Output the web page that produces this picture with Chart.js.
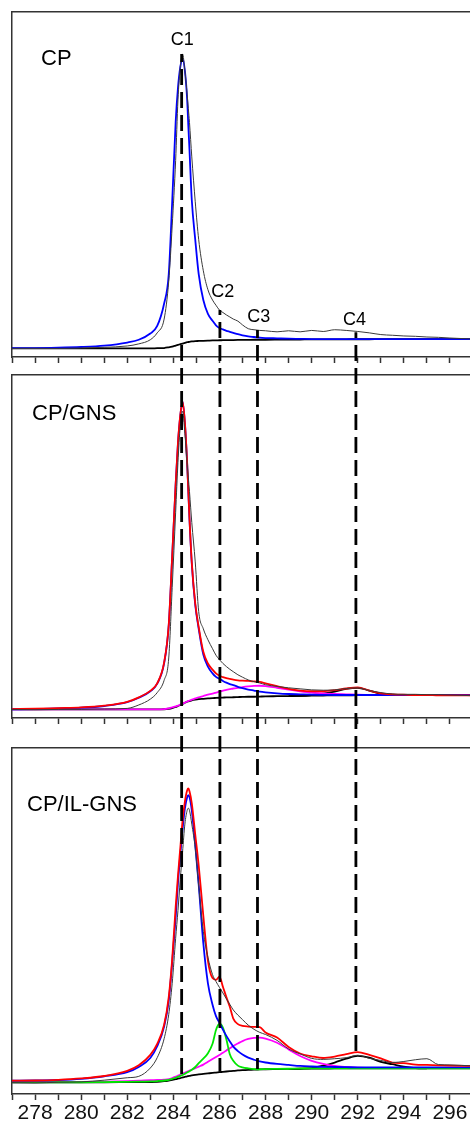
<!DOCTYPE html>
<html>
<head>
<meta charset="utf-8">
<script src="https://cdn.jsdelivr.net/npm/chart.js@4.4.1/dist/chart.umd.min.js"></script>
<style>
  html, body { margin: 0; padding: 0; background: #fff; overflow: hidden; }
  canvas { position: absolute; left: 0; }
</style>
</head>
<body>
<canvas id="cp" width="476" height="366" style="top:0px;width:476px;height:366px"></canvas>
<canvas id="gns" width="476" height="370" style="top:366px;width:476px;height:370px"></canvas>
<canvas id="ilgns" width="476" height="391" style="top:736px;width:476px;height:391px"></canvas>
<script>
// binding energy grid (eV), shared by the spectra
const energy = [277, 278, 279, 280, 281, 282, 282.5, 283, 283.3, 283.6, 283.8, 283.95, 284.1, 284.2, 284.3, 284.4, 284.5, 284.6, 284.65, 284.7,
  284.8, 284.95, 285.1, 285.3, 285.5, 285.7, 285.85, 286, 286.15, 286.3, 286.45, 286.6, 286.8, 287, 287.25, 287.5, 287.75, 288, 288.5, 289,
  289.5, 290, 290.5, 291, 291.5, 292, 292.5, 293, 293.5, 294, 294.5, 295, 295.5, 296, 297];
// grid for the pi-pi* satellite (C4) component
const energyC4 = [289, 289.5, 290, 290.5, 291, 291.5, 292, 292.5, 293, 293.5, 294, 294.5, 295];

// CP
const cpRaw = [2.5, 2.5, 2.5, 2.6, 2.8, 3.2, 3.8, 5.0, 7.0, 11.0, 22, 38, 57, 74.5, 84, 87.8, 83, 76, 72, 68,
  58, 45, 34, 25, 19.5, 16.5, 15.0, 13.6, 12.9, 12.2, 11.6, 11.0, 10.4, 9.3, 8.2, 7.9, 7.7, 7.6, 7.3, 7.6,
  7.3, 7.7, 7.4, 7.9, 7.7, 7.4, 7.0, 6.5, 6.3, 6.1, 6.0, 5.8, 5.7, 5.5, 5.2];
const cpC1 = [2.6, 2.6, 2.7, 2.9, 3.3, 4.2, 5.0, 6.8, 9.0, 15.5, 24, 45, 68, 78, 84, 86.5, 83, 74.5, 67, 60,
  45.5, 34, 24, 16.5, 12.5, 10.5, 9.2, 8.4, 8.0, 7.6, 7.3, 7.0, 6.6, 6.3, 6.0, 5.8, 5.6, 5.5, 5.4, 5.3,
  5.25, 5.2, 5.2, 5.2, 5.2, 5.2, 5.2, 5.2, 5.2, 5.2, 5.2, 5.2, 5.2, 5.2, 5.2];
const cpBg = [2.5, 2.5, 2.5, 2.5, 2.5, 2.5, 2.5, 2.5, 2.55, 2.6, 2.8, 3.0, 3.3, 3.5, 3.7, 3.9, 4.1, 4.3, 4.35, 4.4,
  4.5, 4.6, 4.65, 4.7, 4.75, 4.8, 4.82, 4.85, 4.87, 4.9, 4.9, 4.92, 4.94, 4.95, 4.97, 5.0, 5.0, 5.0, 5.02, 5.05,
  5.07, 5.1, 5.1, 5.12, 5.13, 5.15, 5.15, 5.17, 5.17, 5.18, 5.18, 5.2, 5.2, 5.2, 5.2];

// CP/GNS
const gnsRaw = [2.5, 2.4, 2.5, 2.5, 2.6, 2.8, 3.8, 5.5, 7.4, 11, 17.5, 38, 60, 74.5, 85, 89.5, 83, 74, 70, 66,
  57, 45.5, 31, 26, 22.8, 20.2, 18.3, 17.0, 15.9, 15.0, 14.2, 13.5, 12.6, 11.9, 11.1, 10.6, 10.2, 9.7, 9.2, 8.8,
  8.5, 8.2, 8.1, 8.2, 8.6, 8.8, 8.0, 7.4, 7.0, 6.9, 6.9, 6.8, 6.8, 6.7, 6.5];
const gnsFit = [2.6, 2.7, 2.9, 3.1, 3.6, 4.7, 6.0, 7.9, 10.1, 16.2, 27.2, 47.2, 68.2, 80.2, 88.2, 92.2, 86.2, 74.2, 66.2, 58.2,
  45.3, 33.4, 26.5, 19.3, 15.9, 14.1, 13.0, 12.3, 11.9, 11.6, 11.4, 11.2, 11.0, 10.9, 10.8, 10.7, 10.5, 10.1, 9.3, 8.5,
  8.0, 7.8, 7.8, 8.1, 8.6, 8.9, 8.0, 7.2, 6.9, 6.8, 6.7, 6.7, 6.6, 6.6, 6.6];
const gnsC1 = [2.5, 2.6, 2.8, 3.0, 3.5, 4.6, 5.9, 7.8, 10.0, 16, 27, 47, 68, 80, 88, 92.2, 86, 74, 66, 58,
  45, 33, 26, 18.5, 15.0, 13.0, 12.0, 11.4, 10.8, 10.3, 9.9, 9.6, 9.1, 8.7, 8.3, 8.0, 7.7, 7.5, 7.2, 7.0,
  6.9, 6.8, 6.75, 6.7, 6.7, 6.7, 6.7, 6.7, 6.7, 6.7, 6.7, 6.7, 6.7, 6.7, 6.7];
const gnsC3 = [2.5, 2.5, 2.5, 2.5, 2.5, 2.5, 2.5, 2.5, 2.5, 2.6, 2.8, 3.1, 3.4, 3.6, 3.9, 4.2, 4.5, 4.8, 4.95, 5.1,
  5.35, 5.7, 6.05, 6.4, 6.8, 7.1, 7.4, 7.7, 7.95, 8.2, 8.4, 8.6, 8.8, 9.0, 9.2, 9.35, 9.4, 9.3, 8.8, 8.3,
  7.8, 7.4, 7.2, 7.0, 6.9, 6.8, 6.75, 6.7, 6.7, 6.7, 6.7, 6.7, 6.7, 6.7, 6.7];
const gnsBg = [2.5, 2.5, 2.5, 2.5, 2.5, 2.5, 2.5, 2.5, 2.5, 2.55, 2.7, 2.9, 3.2, 3.5, 3.8, 4.1, 4.45, 4.75, 4.85, 4.95,
  5.15, 5.35, 5.5, 5.6, 5.7, 5.8, 5.85, 5.9, 5.95, 6.0, 6.0, 6.05, 6.1, 6.15, 6.2, 6.2, 6.25, 6.3, 6.35, 6.4,
  6.45, 6.5, 6.55, 6.6, 6.6, 6.65, 6.65, 6.7, 6.7, 6.7, 6.7, 6.7, 6.7, 6.7, 6.7];
const gnsC4 = [6.4, 6.45, 6.7, 7.1, 7.7, 8.5, 8.8, 8.0, 7.1, 6.8, 6.7, 6.7, 6.7];

// CP/IL-GNS
const ilRaw = [3.3, 3.2, 3.4, 3.5, 4.0, 4.7, 5.1, 7.5, 10.5, 16, 23, 32, 45, 53, 62, 70, 78, 82, 82.6, 82,
  78, 71, 60, 47, 39.5, 34.5, 32.5, 30.8, 29.2, 27.5, 25.9, 24.3, 22.8, 21.5, 19.9, 18.7, 17.8, 17.2, 15.5, 13.0,
  11.6, 10.3, 10.0, 10.2, 10.5, 11.2, 10.3, 9.7, 9.1, 9.4, 9.9, 10.2, 8.5, 8.4, 8.1];
const ilFit = [3.85, 3.9, 4.1, 4.5, 5.2, 6.7, 8.3, 11.3, 14.5, 20, 28, 39, 54, 63, 71, 79, 84.5, 87.8, 88.3, 87.5,
  84, 75, 66, 51.5, 38.5, 33.5, 33.0, 33.9, 31.0, 28.0, 25.2, 21.8, 20.2, 19.7, 19.5, 19.4, 19.3, 17.8, 16.3, 13.6,
  11.7, 10.9, 10.4, 10.8, 11.5, 12.1, 11.3, 10.3, 9.1, 8.9, 8.5, 8.4, 8.3, 8.2, 8.1];
const ilC1 = [3.85, 3.9, 4.05, 4.4, 5.1, 6.3, 7.8, 10.4, 13.8, 19.5, 27, 38, 51, 61, 69, 76.5, 82.5, 85.8, 86.4, 85.8,
  82, 72, 60.5, 43.6, 32, 25.8, 22.5, 20.6, 18.6, 16.8, 15.2, 13.7, 12.4, 11.4, 10.5, 9.9, 9.4, 9.1, 8.7, 8.4,
  8.1, 7.95, 7.85, 7.8, 7.75, 7.7, 7.7, 7.7, 7.7, 7.7, 7.7, 7.7, 7.7, 7.7, 7.7];
const ilC2 = [3.35, 3.35, 3.4, 3.4, 3.45, 3.5, 3.55, 3.65, 3.75, 3.9, 4.1, 4.35, 4.7, 4.95, 5.25, 5.5, 5.85, 6.2, 6.4, 6.6,
  7.0, 7.8, 8.9, 10.2, 11.8, 14.5, 18.5, 20.3, 19.2, 15.8, 11.5, 9.6, 8.2, 7.7, 7.4, 7.2, 7.15, 7.2, 7.25, 7.3,
  7.35, 7.4, 7.4, 7.4, 7.4, 7.4, 7.4, 7.4, 7.4, 7.4, 7.4, 7.4, 7.4, 7.4, 7.4];
const ilC3 = [3.4, 3.4, 3.45, 3.5, 3.6, 3.75, 3.85, 4.0, 4.05, 4.15, 4.3, 4.6, 5.0, 5.3, 5.6, 5.9, 6.2, 6.5, 6.6, 6.75,
  7.0, 7.45, 7.9, 8.5, 9.3, 10.1, 10.7, 11.3, 11.9, 12.6, 13.2, 13.9, 14.6, 15.3, 15.9, 16.2, 16.3, 16.0, 14.8, 12.9,
  11.0, 9.6, 8.7, 8.1, 7.8, 7.6, 7.55, 7.5, 7.5, 7.5, 7.5, 7.5, 7.5, 7.5, 7.5];
const ilBg = [3.4, 3.4, 3.4, 3.4, 3.4, 3.42, 3.43, 3.45, 3.5, 3.7, 3.9, 4.1, 4.3, 4.45, 4.6, 4.8, 4.95, 5.1, 5.2, 5.25,
  5.4, 5.55, 5.65, 5.8, 5.95, 6.1, 6.2, 6.3, 6.4, 6.5, 6.6, 6.7, 6.8, 6.9, 6.95, 7.05, 7.1, 7.15, 7.2, 7.25,
  7.3, 7.35, 7.35, 7.4, 7.4, 7.4, 7.4, 7.4, 7.4, 7.4, 7.4, 7.4, 7.4, 7.4, 7.4];
const ilC4 = [7.25, 7.3, 7.5, 8.2, 9.1, 10.2, 11.0, 10.5, 9.3, 8.6, 7.9, 7.5, 7.4];

// peak positions and the dashed guide lines
const peakNames = ['C1', 'C2', 'C3', 'C4'];
const peakEnergy = [284.36, 286.02, 287.65, 291.92];
const dropFrom = [87.8, 13.6, 7.8, 7.2];   // where the line starts in the CP panel
const dropTo = [4.6, 6.4, 7.2, 11.0];      // where it ends in the CP/IL-GNS panel
const labelEnergy = [284.39, 286.14, 287.71, 291.86];
const labelLevel = [90.4, 17.5, 10.2, 9.3];

const FONT = '"Liberation Sans", Arial, Helvetica, sans-serif';
const DASH = [16, 7];
const PERIOD = DASH[0] + DASH[1];

const RAW = { color: '#3a3a3a', width: 1 };
const RED = { color: '#ff0000', width: 1.8 };
const BLUE = { color: '#0000ff', width: 1.8 };
const GREEN = { color: '#00e600', width: 1.8 };
const MAGENTA = { color: '#ff00ff', width: 1.8 };
const BLACK = { color: '#000000', width: 1.8 };

// list order = drawing order from top to bottom
const panels = [
  { canvas: 'cp', name: 'CP', top: 0, padTop: 12, axisH: 9, labels: false, nameAt: [29, 53], drop: 'first',
    curves: [[energy, cpRaw, RAW], [energy, cpC1, BLUE], [energy, cpBg, BLACK]] },
  { canvas: 'gns', name: 'CP/GNS', top: 366, padTop: 9, axisH: 18, labels: false, nameAt: [20, 45], drop: 'middle',
    curves: [[energy, gnsRaw, RAW], [energy, gnsFit, RED], [energy, gnsC1, BLUE], [energy, gnsC3, MAGENTA],
             [energyC4, gnsC4, BLACK], [energy, gnsBg, BLACK]] },
  { canvas: 'ilgns', name: 'CP/IL-GNS', top: 736, padTop: 12, axisH: 33, labels: true, nameAt: [15, 63], drop: 'last',
    curves: [[energy, ilRaw, RAW], [energy, ilFit, RED], [energy, ilC1, BLUE], [energy, ilC2, GREEN], [energy, ilC3, MAGENTA],
             [energyC4, ilC4, BLACK], [energy, ilBg, BLACK]] }
];

const overlay = {
  id: 'overlay',
  afterDraw(chart, args, opts) {
    const ctx = chart.ctx;
    const x = chart.scales.x, y = chart.scales.y;
    const area = chart.chartArea;
    ctx.save();
    ctx.fillStyle = '#000';
    ctx.font = '22px ' + FONT;
    ctx.textBaseline = 'alphabetic';
    ctx.fillText(opts.name, area.left + opts.nameAt[0], area.top + opts.nameAt[1]);

    ctx.strokeStyle = '#000';
    ctx.lineWidth = 2.8;
    ctx.setLineDash(DASH);
    peakEnergy.forEach((e, i) => {
      const px = x.getPixelForValue(e);
      const y0 = opts.drop === 'first' ? y.getPixelForValue(dropFrom[i]) : 0;
      const y1 = opts.drop === 'last' ? y.getPixelForValue(dropTo[i]) : chart.height;
      ctx.lineDashOffset = (y0 + opts.top) % PERIOD;
      ctx.beginPath();
      ctx.moveTo(px, y0);
      ctx.lineTo(px, y1);
      ctx.stroke();
    });
    ctx.setLineDash([]);

    if (opts.drop === 'first') {
      ctx.font = '18px ' + FONT;
      ctx.textAlign = 'center';
      peakNames.forEach((n, i) => {
        ctx.fillText(n, x.getPixelForValue(labelEnergy[i]), y.getPixelForValue(labelLevel[i]));
      });
    }
    ctx.restore();
  }
};

const frame = { display: true, color: '#333', width: 1.5 };
// frame-only axes: no tick marks, so they take no room
const bare = { display: false, drawTicks: false };

panels.forEach(p => {
  new Chart(document.getElementById(p.canvas), {
    type: 'line',
    data: {
      datasets: p.curves.map(([xs, ys, st]) => ({
        data: xs.map((e, i) => ({ x: e, y: ys[i] })),
        borderColor: st.color,
        borderWidth: st.width,
        pointRadius: 0,
        fill: false,
        tension: 0.4,
        cubicInterpolationMode: 'monotone'
      }))
    },
    options: {
      responsive: false,
      animation: false,
      events: [],
      layout: { padding: { left: 12, right: 3, top: p.padTop, bottom: 0 } },
      plugins: {
        legend: { display: false },
        tooltip: { enabled: false },
        overlay: { name: p.name, nameAt: p.nameAt, drop: p.drop, top: p.top }
      },
      scales: {
        x: {
          type: 'linear', position: 'bottom', min: 277, max: 297,
          ticks: {
            display: p.labels, stepSize: 1, maxTicksLimit: 30, autoSkip: false, maxRotation: 0, padding: 1,
            color: '#111', font: { family: FONT, size: 21 },
            callback: v => (v % 2 === 0 ? String(v) : '')
          },
          grid: { display: true, drawOnChartArea: false, drawTicks: true, tickLength: 6, tickWidth: 1.5, tickColor: '#333' },
          border: frame,
          afterFit: s => { s.height = p.axisH; }
        },
        xTop: {
          type: 'linear', position: 'top', min: 277, max: 297,
          ticks: { display: false }, grid: bare, border: frame
        },
        y: {
          type: 'linear', position: 'left', min: 0, max: 100,
          ticks: { display: false }, grid: bare, border: frame
        },
        yRight: {
          type: 'linear', position: 'right', min: 0, max: 100,
          ticks: { display: false }, grid: bare, border: frame
        }
      }
    },
    plugins: [overlay]
  });
});
</script>
</body>
</html>
